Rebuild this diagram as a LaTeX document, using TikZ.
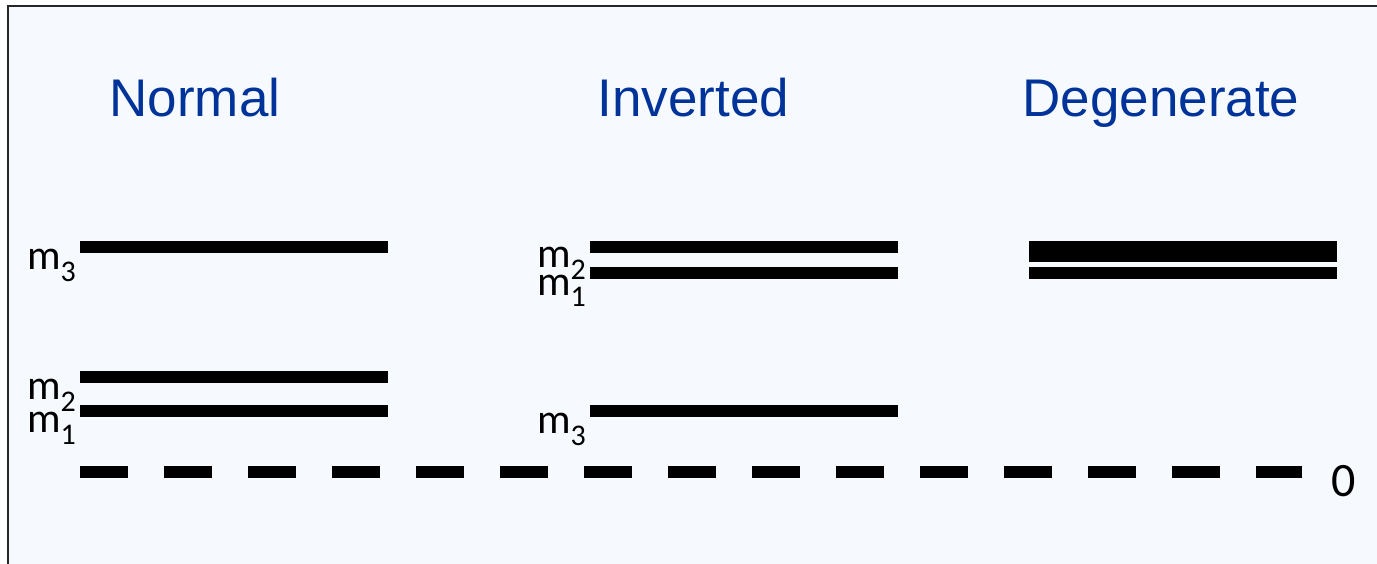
\documentclass[tikz,border=0pt]{standalone}
\usepackage{fontspec}
\setmainfont{Carlito}
\newfontfamily\titlefont{Liberation Sans}
\definecolor{panel}{RGB}{246,250,254}
\definecolor{titleblue}{RGB}{0,51,153}
\newcommand{\mlabel}[1]{\fontsize{42}{42}\selectfont m\raisebox{-12pt}{\fontsize{30}{30}\selectfont #1}}
\tikzset{
  level/.style={line width=12pt, line cap=butt},
  thicklevel/.style={line width=21pt, line cap=butt},
  zeroline/.style={line width=12pt, line cap=butt, dash pattern=on 48pt off 36pt},
  heading/.style={font=\titlefont\fontsize{53}{60}\selectfont, text=titleblue, inner sep=0pt, anchor=base},
  masslabel/.style={inner sep=0pt, anchor=base east},
}
\begin{document}
\begin{tikzpicture}[x=1pt, y=-1pt]
  \useasboundingbox (0,0) rectangle (1377,564);
  \fill[white] (0,0) rectangle (1377,564);
  \fill[panel] (8,6) rectangle (1377,564);
  \draw[line width=2.2pt, black!85] (8,564) -- (8,6) -- (1377,6);

  % column headings
  \node[heading] (hnormal) at (195,117) {Normal};
  \node[heading] (hinverted) at (693.5,117) {Inverted};
  \node[heading] (hdegenerate) at (1161,117) {Degenerate};

  % normal ordering
  \coordinate (n3) at (80,247.5);
  \coordinate (n2) at (80,377);
  \coordinate (n1) at (80,411);
  \draw[level] (n3) -- ++(308,0);
  \draw[level] (n2) -- ++(308,0);
  \draw[level] (n1) -- ++(308,0);
  \node[masslabel] (ln3) at ([shift={(-4,22.5)}]n3) {\mlabel{3}};
  \node[masslabel] (ln2) at ([shift={(-4,22)}]n2) {\mlabel{2}};
  \node[masslabel] (ln1) at ([shift={(-4,21.5)}]n1) {\mlabel{1}};

  % inverted ordering
  \coordinate (i2) at (590,247.5);
  \coordinate (i1) at (590,273.5);
  \coordinate (i3) at (590,411);
  \draw[level] (i2) -- ++(308,0);
  \draw[level] (i1) -- ++(308,0);
  \draw[level] (i3) -- ++(308,0);
  \node[masslabel] (li2) at ([shift={(-4,20.5)}]i2) {\mlabel{2}};
  \node[masslabel] (li1) at ([shift={(-4,21.5)}]i1) {\mlabel{1}};
  \node[masslabel] (li3) at ([shift={(-4,22)}]i3) {\mlabel{3}};

  % quasi-degenerate spectrum
  \coordinate (d23) at (1029,251.7);
  \coordinate (d1) at (1029,273.3);
  \draw[thicklevel] (d23) -- ++(308,0);
  \draw[level] (d1) -- ++(308,0);

  % zero of the mass scale
  \coordinate (z0) at (80,471.5);
  \coordinate (z1) at (1302,471.5);
  \draw[zeroline] (z0) -- (z1);
  \node[inner sep=0pt, anchor=base, font=\fontsize{48}{48}\selectfont] (zero) at (1343.5,496) {0};
\end{tikzpicture}
\end{document}
